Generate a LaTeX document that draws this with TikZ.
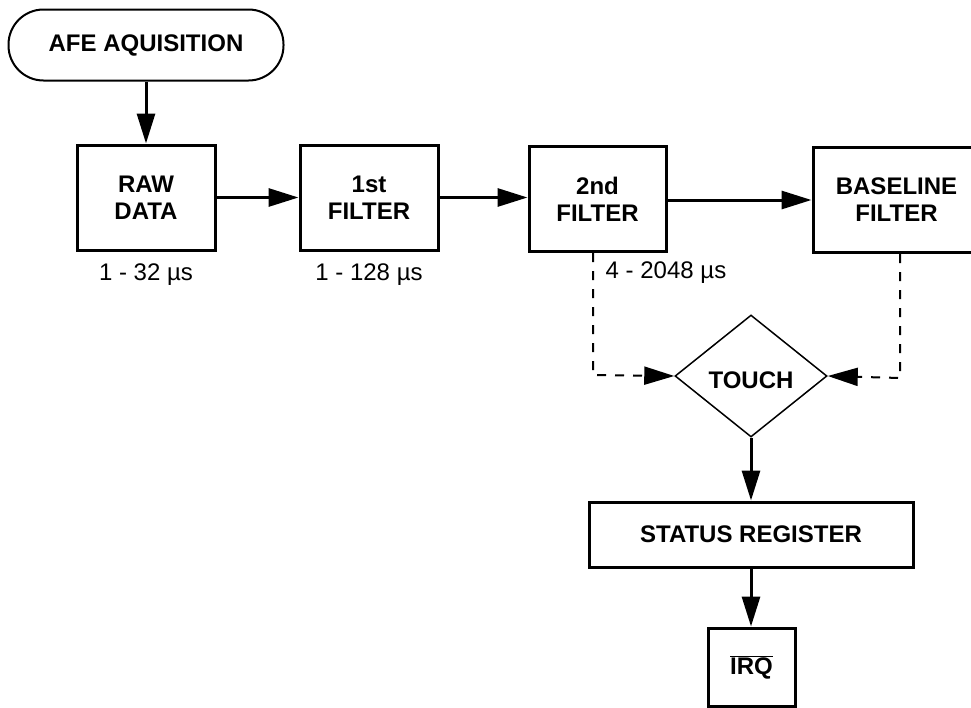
\documentclass[tikz,border=0pt]{standalone}
\usepackage{fontspec}
\setmainfont{Liberation Sans}
\usetikzlibrary{arrows.meta,shapes.geometric}
\begin{document}
\begin{tikzpicture}[x=1pt,y=-1pt,
  every node/.style={font=\fontsize{24}{27}\selectfont\bfseries, inner sep=0pt, align=center},
  blk/.style={draw, line width=3pt, minimum width=138pt, minimum height=105pt},
  lbl/.style={font=\fontsize{24}{27}\selectfont},
  arr/.style={line width=3pt, -{Triangle[length=30pt,width=18pt]}},
  darr/.style={line width=2pt, dash pattern=on 9pt off 9pt, -{Triangle[length=30pt,width=18pt]}}]
\useasboundingbox (0,0) rectangle (971,707);
\node[draw, line width=2pt, minimum width=275pt, minimum height=71pt, rounded corners=35pt] (afe) at (146,45) {AFE AQUISITION};
\node[blk] (raw) at (146,197.5) {RAW\\DATA};
\node[blk] (f1) at (369,197.5) {1st\\FILTER};
\node[blk, minimum width=137pt] (f2) at (597.5,199) {2nd\\FILTER};
\node[blk, minimum width=167pt] (base) at (896.5,200) {BASELINE\\FILTER};
\node[lbl] (t1) at (146,275) {1 - 32 µs};
\node[lbl] (t2) at (369,275) {1 - 128 µs};
\node[lbl] (t3) at (666,273) {4 - 2048 µs};
\node[draw, diamond, line width=1.5pt, minimum width=152pt, minimum height=122pt] (touch) at (751,376) {};
\node (tt) at (751,380) {TOUCH};
\node[draw, line width=3pt, minimum width=324pt, minimum height=65pt] (status) at (751,534.5) {STATUS REGISTER};
\node[draw, line width=3pt, minimum width=87pt, minimum height=78pt] (irq) at (751.5,667) {$\overline{\hbox{\fontsize{24}{27}\selectfont\bfseries IRQ}}$};
\coordinate (c1) at (593,375);
\coordinate (c2) at (900,378);
\draw[arr] (afe.south) -- (raw.north);
\draw[arr] (raw.east) -- (f1.west);
\draw[arr] (f1.east |- 0,197.5) -- (f2.west |- 0,197.5);
\draw[arr] (f2.east |- 0,200) -- (base.west |- 0,200);
\draw[darr] (f2.south -| c1) -- (c1) -- (touch.west);
\draw[darr] (base.south -| c2) -- (c2) -- (touch.east);
\draw[arr] (touch.south) -- (status.north);
\draw[arr] (status.south) -- (irq.north -| status.south);
\end{tikzpicture}
\end{document}
